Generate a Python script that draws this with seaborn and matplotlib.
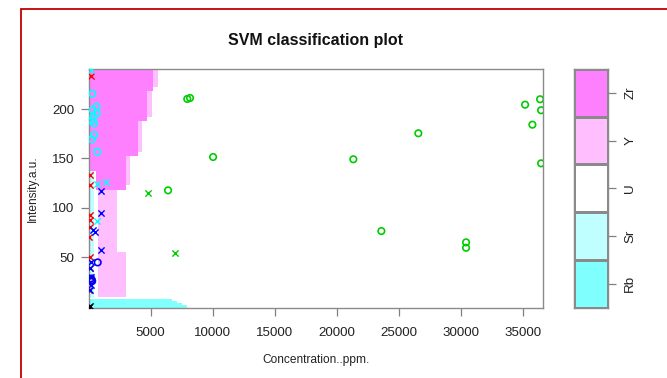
import numpy as np
import pandas as pd
import seaborn as sns
import matplotlib
matplotlib.use("Agg")
import matplotlib.pyplot as plt
from matplotlib.colors import ListedColormap
from matplotlib.patches import Rectangle

# ---------------- data ----------------
classes = ["Rb", "Sr", "U", "Y", "Zr"]
region_colors = ["#80FFFF", "#BFFFFF", "#FFFFFF", "#FFBFFF", "#FF80FF"]
point_colors = {"Rb": "#000000", "Sr": "#FF0000", "U": "#00CD00",
                "Y": "#0000FF", "Zr": "#00FFFF"}

x_range = [0, 36610]
y_range = [-1.2, 240.5]
x_ticks = [5000, 10000, 15000, 20000, 25000, 30000, 35000]
y_ticks = [50, 100, 150, 200]

# decision regions (horizontal bands: top, bottom, left, right)
zr_y_top = [240.5, 217.6, 187.2, 151.8, 136.6]
zr_y_bot = [217.6, 187.2, 151.8, 136.6, 118.1]
zr_x_left = [0, 0, 0, 0, 530]
zr_x_right = [5160, 4680, 3920, 3010, 3010]

y_y_top = [240.5, 221.3, 190.9, 155.5, 136.6, 121.8, 118.1, 55.7]
y_y_bot = [221.3, 190.9, 155.5, 136.6, 121.8, 118.1, 55.7, 9.5]
y_x_left = [0, 0, 0, 0, 750, 750, 750, 750]
y_x_right = [5565, 5081, 4275, 3346, 3346, 3010, 2258, 3010]

sr_y_top = [136.6]
sr_y_bot = [9.5]
sr_x_left = [0]
sr_x_right = [400]

rb_y_top = [7.5, 5.5, 3.5, 1.5]
rb_y_bot = [5.5, 3.5, 1.5, -1.2]
rb_x_left = [0, 0, 0, 0]
rb_x_right = [6700, 7100, 7500, 7900]

# observations: "o" = data point, "x" = support vector
U_o_x = [7950, 8170, 10030, 6400, 21340, 26580, 23600, 30430, 30430, 35190, 36400, 36480, 35780, 36480]
U_o_y = [210.2, 211.2, 151.5, 117.8, 149.2, 175.5, 76.6, 65.2, 59.7, 204.4, 209.9, 198.8, 184.2, 145.1]
U_x_x = [4780, 6940]
U_x_y = [115.4, 54.6]

Zr_o_x = [290, 645, 323, 645, 371, 242, 427, 427, 242, 694]
Zr_o_y = [215.6, 202.4, 199.0, 195.7, 192.3, 188.2, 185.6, 173.8, 169.4, 156.9]
Zr_x_x = [185, 694, 1395, 694]
Zr_x_y = [239.5, 124.2, 126.5, 86.7]

Y_o_x = [726, 242, 200, 280]
Y_o_y = [44.9, 27.0, 28.5, 26.0]
Y_x_x = [968, 968, 371, 508, 992, 161, 105, 105, 185, 150]
Y_x_y = [117.1, 94.5, 77.6, 75.3, 57.4, 45.5, 38.9, 16.9, 30.4, 22.0]

Sr_o_x = []
Sr_o_y = []
Sr_x_x = [185, 105, 105, 105, 105, 80, 48, 105, 105, 80, 48, 60]
Sr_x_y = [233.5, 133.3, 123.2, 92.8, 87.7, 80.7, 70.6, 50.3, 39.2, 30.1, 24.0, 16.9]

Rb_o_x = []
Rb_o_y = []
Rb_x_x = [60, 120]
Rb_x_y = [0.3, 1.0]

# ---------------- figure ----------------
sns.set_theme(style="white")
plt.rcParams["font.family"] = ["Liberation Sans", "DejaVu Sans"]
plt.rcParams["axes.grid"] = False

W, H = 667, 378
fig = plt.figure(figsize=(W / 100, H / 100), dpi=100)
fig.patch.set_facecolor("white")

ax = fig.add_axes([88.7 / W, 1 - 308 / H, (542.7 - 88.7) / W, (308 - 69) / H])
ax.grid(False)

# build class grid from bands (one cell per output pixel)
nx, ny = 454, 239
xc = x_range[0] + (np.arange(nx) + 0.5) * (x_range[1] - x_range[0]) / nx
yc = y_range[0] + (np.arange(ny) + 0.5) * (y_range[1] - y_range[0]) / ny
XX, YY = np.meshgrid(xc, yc)
grid = np.full(XX.shape, classes.index("U"), dtype=int)


def paint(cls, tops, bots, lefts, rights):
    for t, b, l, r in zip(tops, bots, lefts, rights):
        m = (YY <= t) & (YY > b) & (XX >= l) & (XX < r)
        grid[m] = classes.index(cls)


paint("Y", y_y_top, y_y_bot, y_x_left, y_x_right)
paint("Zr", zr_y_top, zr_y_bot, zr_x_left, zr_x_right)
paint("Sr", sr_y_top, sr_y_bot, sr_x_left, sr_x_right)
paint("Rb", rb_y_top, rb_y_bot, rb_x_left, rb_x_right)

cmap = ListedColormap(region_colors)
rgb = np.array([matplotlib.colors.to_rgb(region_colors[k]) for k in range(5)])
ax.imshow(rgb[grid], origin="lower",
          extent=[x_range[0], x_range[1], y_range[0], y_range[1]],
          aspect="auto", interpolation="nearest", zorder=1)

pts = {
    "U": (U_o_x, U_o_y, U_x_x, U_x_y),
    "Zr": (Zr_o_x, Zr_o_y, Zr_x_x, Zr_x_y),
    "Y": (Y_o_x, Y_o_y, Y_x_x, Y_x_y),
    "Sr": (Sr_o_x, Sr_o_y, Sr_x_x, Sr_x_y),
    "Rb": (Rb_o_x, Rb_o_y, Rb_x_x, Rb_x_y),
}
for cls in ["Rb", "Sr", "U", "Y", "Zr"]:
    ox, oy, sx, sy = pts[cls]
    c = point_colors[cls]
    if len(ox):
        sns.scatterplot(x=ox, y=oy, marker="o", s=22, color=c, edgecolor=c,
                        facecolor="none", linewidth=1.2, ax=ax, zorder=3)
    if len(sx):
        sns.scatterplot(x=sx, y=sy, marker="x", s=20, color=c, linewidth=1.0,
                        ax=ax, zorder=3)

ax.set_xlim(x_range)
ax.set_ylim(y_range)
ax.set_xticks(x_ticks)
ax.set_xticklabels([str(v) for v in x_ticks])
ax.set_yticks(y_ticks)
ax.set_yticklabels([str(v) for v in y_ticks])
ax.tick_params(axis="both", which="both", direction="out", length=5.5,
               width=0.9, color="#808080", labelsize=9.6, labelcolor="#222222")
ax.tick_params(axis="x", pad=8.0, bottom=True)
ax.tick_params(axis="y", pad=5.0, left=True)
for sp in ax.spines.values():
    sp.set_visible(True)
    sp.set_color("#8a8a8a")
    sp.set_linewidth(1.0)
ax.set_xlabel("Concentration..ppm.", fontsize=8.6, color="#222222", labelpad=11)
ax.set_ylabel("Intensity.a.u.", fontsize=8.6, color="#222222", labelpad=9)

fig.text(315.7 / W, 1 - 41 / H, "SVM classification plot", ha="center",
         va="center", fontsize=11.5, fontweight="bold", color="#111111")

# colour key
cax = fig.add_axes([574.3 / W, 1 - 307.7 / H, (607.7 - 574.3) / W, (307.7 - 69) / H])
key_labels = classes[::-1]
key_vals = pd.DataFrame({"k": [classes.index(c) for c in key_labels]}, index=key_labels)
sns.heatmap(key_vals, ax=cax, cmap=cmap, vmin=-0.5, vmax=4.5, cbar=False,
            linewidths=0.9, linecolor="#8a8a8a", xticklabels=False,
            yticklabels=True)
cax.set_ylabel("")
cax.yaxis.tick_right()
cax.set_yticklabels(key_labels, rotation=90, va="center", fontsize=9.6,
                    color="#222222")
cax.tick_params(axis="y", direction="out", length=6, width=0.9, color="#808080",
                pad=6, right=True, left=False)
for sp in cax.spines.values():
    sp.set_visible(True)
    sp.set_color("#8a8a8a")
    sp.set_linewidth(1.0)

# red outer frame
fig.add_artist(Rectangle((21 / W, -0.2), 1.5, 1 - 9 / H + 0.2,
                         transform=fig.transFigure, fill=False,
                         edgecolor="#C00000", linewidth=1.3, clip_on=False))

fig.savefig("out.png", dpi=100, facecolor="white")
